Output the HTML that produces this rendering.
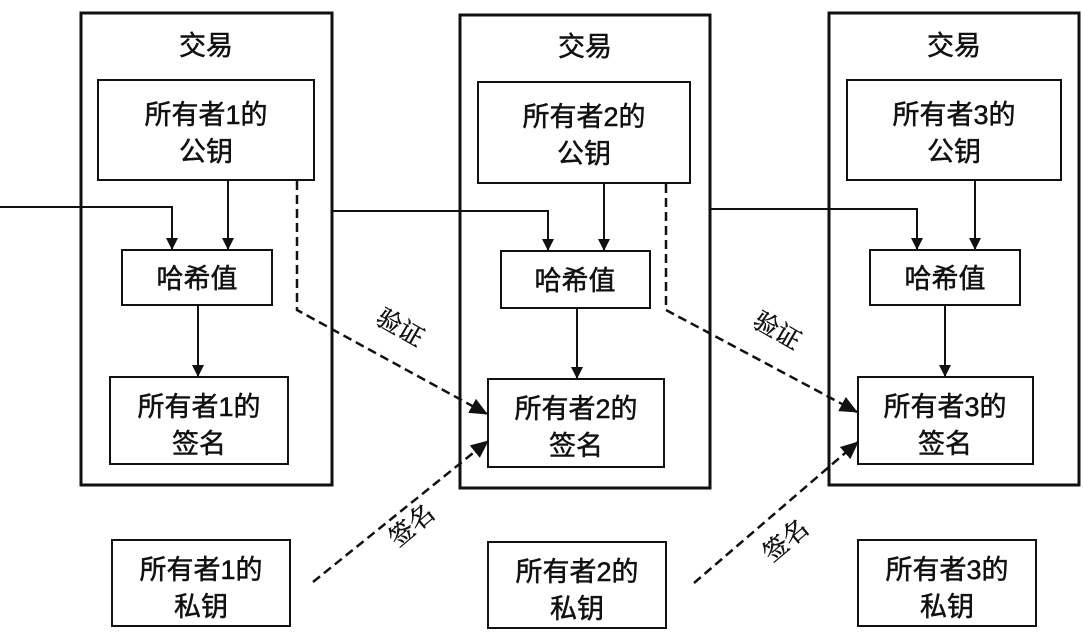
<!DOCTYPE html>
<html><head><meta charset="utf-8"><style>
html,body{margin:0;padding:0;background:#fff;}
text{font-family:"Liberation Sans","Noto Sans CJK SC",sans-serif;font-size:27px;fill:#111;font-weight:normal;stroke:#111;stroke-width:0.5;}
.l{font-family:"Liberation Serif","Noto Serif CJK SC",serif;font-size:25px;}
</style></head><body>
<svg width="1083" height="633" viewBox="0 0 1083 633" xmlns="http://www.w3.org/2000/svg">
<defs><marker id="a" markerWidth="12" markerHeight="12" refX="11" refY="6" orient="auto" markerUnits="userSpaceOnUse"><path d="M0,0 L12,6 L0,12 z" fill="#111"/></marker>
<marker id="b" markerWidth="18" markerHeight="16" refX="17" refY="8" orient="auto" markerUnits="userSpaceOnUse"><path d="M0,0 L18,8 L0,16 z" fill="#111"/></marker></defs>
<g fill="none" stroke="#111">
<rect x="81" y="13" width="251" height="472" stroke-width="3"/>
<rect x="460" y="15" width="250" height="473" stroke-width="3"/>
<rect x="829" y="13" width="250" height="472" stroke-width="3"/>
<g stroke-width="2">
<rect x="98" y="80" width="216" height="100"/>
<rect x="478" y="82" width="212" height="101"/>
<rect x="847" y="80" width="214" height="100"/>
<rect x="122" y="250" width="150" height="55"/>
<rect x="501" y="251" width="149" height="57"/>
<rect x="870" y="250" width="150" height="55"/>
<rect x="110" y="377" width="178" height="87"/>
<rect x="488" y="379" width="176" height="88"/>
<rect x="858" y="377" width="175" height="87"/>
<rect x="112" y="540" width="178" height="86"/>
<rect x="488" y="542" width="178" height="86"/>
<rect x="858" y="540" width="178" height="86"/>
<polyline points="0,207 172,207 172,249" marker-end="url(#a)"/>
<line x1="228" y1="180" x2="228" y2="249" marker-end="url(#a)"/>
<line x1="198" y1="305" x2="198" y2="376" marker-end="url(#a)"/>
<polyline points="332,211 548,211 548,250" marker-end="url(#a)"/>
<line x1="604" y1="183" x2="604" y2="250" marker-end="url(#a)"/>
<line x1="577" y1="308" x2="577" y2="378" marker-end="url(#a)"/>
<polyline points="710,209 917,209 917,249" marker-end="url(#a)"/>
<line x1="975" y1="180" x2="975" y2="249" marker-end="url(#a)"/>
<line x1="945" y1="305" x2="945" y2="376" marker-end="url(#a)"/>
</g>
<g stroke-width="2.5" stroke-dasharray="9,5">
<polyline points="297,181 297,310 487,414" marker-end="url(#b)"/>
<polyline points="666,184 666,310 857,412" marker-end="url(#b)"/>
<line x1="313" y1="582" x2="488" y2="441" marker-end="url(#b)"/>
<line x1="694" y1="583" x2="858" y2="442" marker-end="url(#b)"/>
</g>
</g>
<g text-anchor="middle">
<text x="206" y="55">交易</text><text x="585" y="56">交易</text><text x="954" y="55">交易</text>
<text x="206" y="124">所有者1的</text><text x="206" y="161">公钥</text>
<text x="584" y="126">所有者2的</text><text x="584" y="163">公钥</text>
<text x="954" y="124">所有者3的</text><text x="954" y="161">公钥</text>
<text x="197" y="288">哈希值</text><text x="575" y="290">哈希值</text><text x="945" y="288">哈希值</text>
<text x="199" y="416">所有者1的</text><text x="199" y="453">签名</text>
<text x="576" y="418">所有者2的</text><text x="576" y="455">签名</text>
<text x="945" y="416">所有者3的</text><text x="945" y="453">签名</text>
<text x="201" y="579">所有者1的</text><text x="201" y="616">私钥</text>
<text x="577" y="581">所有者2的</text><text x="577" y="618">私钥</text>
<text x="947" y="579">所有者3的</text><text x="947" y="616">私钥</text>
<text class="l" transform="translate(396,335) rotate(30)">验证</text>
<text class="l" transform="translate(773,338) rotate(30)">验证</text>
<text class="l" transform="translate(417,532) rotate(-40)">签名</text>
<text class="l" transform="translate(791,547) rotate(-40)">签名</text>
</g>
</svg>
</body></html>
